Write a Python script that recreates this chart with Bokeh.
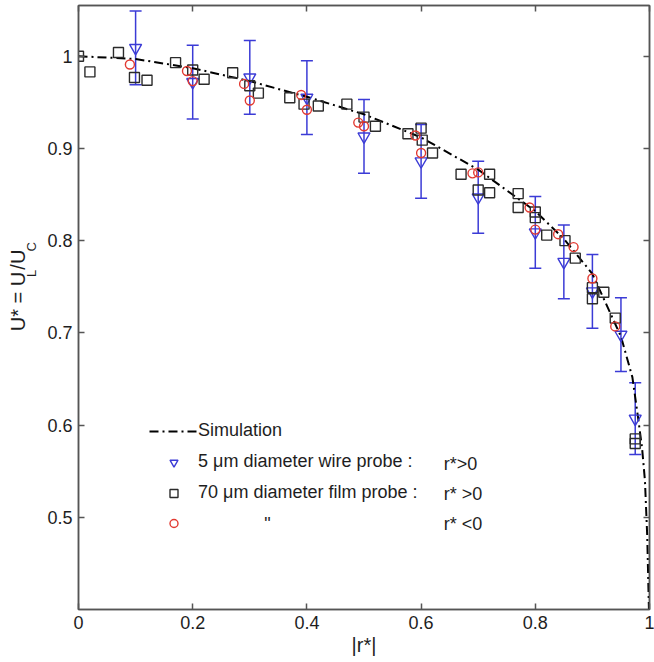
from math import pi
from bokeh.plotting import figure
from bokeh.layouts import row
from bokeh.core.properties import value
from bokeh.models import (Range1d, LinearAxis, FixedTicker, Whisker, TeeHead,
                          ColumnDataSource, Legend, LegendItem, Label)
from bokeh.embed import file_html
from bokeh.resources import INLINE

# ---------------- data ----------------
sim_r = [0.0, 0.1, 0.2, 0.3, 0.4, 0.5, 0.6, 0.7, 0.8, 0.85, 0.9, 0.95,
         0.97, 0.98, 0.987, 0.992, 0.996, 0.999]
sim_u = [1.0, 0.997, 0.987, 0.973, 0.956, 0.937, 0.912, 0.877, 0.832, 0.802,
         0.764, 0.696, 0.652, 0.608, 0.575, 0.54, 0.48, 0.40]

wire_r = [0.1, 0.2, 0.3, 0.4, 0.5, 0.6, 0.7, 0.8, 0.85, 0.9, 0.95, 0.975]
wire_u = [1.009, 0.972, 0.977, 0.955, 0.913, 0.886, 0.847, 0.809, 0.777,
          0.745, 0.698, 0.607]
wire_err = [0.04, 0.04, 0.04, 0.04, 0.04, 0.04, 0.039, 0.039, 0.04, 0.04,
            0.04, 0.039]

film_pos_r = [0.0, 0.02, 0.07, 0.098, 0.12, 0.17, 0.2, 0.22, 0.27, 0.30,
              0.315, 0.37, 0.395, 0.42, 0.47, 0.50, 0.52, 0.577, 0.60, 0.602,
              0.62, 0.67, 0.70, 0.72, 0.72, 0.77, 0.77, 0.80, 0.80, 0.82,
              0.852, 0.87, 0.90, 0.90, 0.92, 0.94, 0.975, 0.975]
film_pos_u = [1.0, 0.983, 1.004, 0.977, 0.974, 0.993, 0.985, 0.975, 0.982,
              0.968, 0.96, 0.955, 0.948, 0.946, 0.948, 0.934, 0.924, 0.916,
              0.922, 0.909, 0.895, 0.872, 0.855, 0.872, 0.852, 0.851, 0.836,
              0.831, 0.825, 0.806, 0.800, 0.781, 0.749, 0.737, 0.744, 0.716,
              0.585, 0.580]

film_neg_r = [0.09, 0.19, 0.20, 0.29, 0.30, 0.39, 0.40, 0.49, 0.50, 0.59,
              0.60, 0.69, 0.70, 0.79, 0.80, 0.84, 0.867, 0.90, 0.94]
film_neg_u = [0.991, 0.984, 0.973, 0.970, 0.952, 0.958, 0.942, 0.928, 0.924,
              0.914, 0.895, 0.873, 0.874, 0.836, 0.812, 0.807, 0.793, 0.759,
              0.707]

x_ticks = [0, 0.2, 0.4, 0.6, 0.8, 1]
x_tick_labels = ["0", "0.2", "0.4", "0.6", "0.8", "1"]
y_ticks = [0.5, 0.6, 0.7, 0.8, 0.9, 1]
y_tick_labels = ["0.5", "0.6", "0.7", "0.8", "0.9", "1"]

legend_labels = ["Simulation", "5 \u03bcm diameter wire probe :",
                 "70 \u03bcm diameter film probe :", " "]
legend_conditions = ["r*>0", "r* >0", "r* <0"]
ditto_mark = '"'
x_title = "|r*|"
y_title_main = ["U* = U", "/U"]
y_title_sub = ["L", "C"]

# ---------------- styling ----------------
FONT = "Liberation Sans"
BLUE = "#3b3bd6"
RED = "#e23a32"
DARK = "#2b2b2b"
AXIS = "#555555"
TXT = "#1e1e1e"

X0, X1 = 0.0, 1.0
Y0, Y1 = 0.4, 1.055
W, H = 654, 662
LW = 44                      # width of the strip holding the y title
BL, BR, BT, BB = 77, 5, 5, 53
FW, FH = W - BL - BR, H - BT - BB

# ---------- main plot ----------
p = figure(width=W - LW, height=H, x_range=Range1d(X0, X1),
           y_range=Range1d(Y0, Y1), output_backend="svg",
           toolbar_location=None, min_border_left=BL - LW,
           min_border_right=BR, min_border_top=BT, min_border_bottom=BB,
           x_axis_location=None, y_axis_location=None)
p.grid.visible = False
p.outline_line_color = AXIS
p.outline_line_width = 1.5
p.background_fill_color = "white"
p.border_fill_color = "white"


def make_axis(ticks, labels, show_labels):
    ax = LinearAxis(ticker=FixedTicker(ticks=ticks),
                    major_tick_in=6, major_tick_out=0, minor_tick_in=0,
                    minor_tick_out=0, major_tick_line_color=AXIS,
                    major_tick_line_width=1.5, axis_line_color=AXIS,
                    axis_line_width=1.5)
    if show_labels:
        ax.major_label_overrides = dict(zip(ticks, labels))
        ax.major_label_text_font = FONT
        ax.major_label_text_font_size = "18px"
        ax.major_label_text_color = TXT
    else:
        ax.major_label_text_color = None
        ax.major_label_text_font_size = "1px"
        ax.major_label_standoff = 0
    return ax


xb = make_axis(x_ticks, x_tick_labels, True)
xb.major_label_standoff = 6
xb.axis_label = x_title
xb.axis_label_text_font = FONT
xb.axis_label_text_font_size = "20px"
xb.axis_label_text_font_style = "normal"
xb.axis_label_text_color = TXT
xb.axis_label_standoff = 2
p.add_layout(xb, "below")
p.add_layout(make_axis(x_ticks, x_tick_labels, False), "above")
yl = make_axis(y_ticks, y_tick_labels, True)
yl.major_label_standoff = 6
p.add_layout(yl, "left")
p.add_layout(make_axis(y_ticks, y_tick_labels, False), "right")

# ---------------- glyphs ----------------
sim = p.line(sim_r, sim_u, line_color="black", line_width=2,
             line_dash="9 4 2 4")

wire_src = ColumnDataSource(dict(
    x=wire_r, y=wire_u,
    upper=[u + e for u, e in zip(wire_u, wire_err)],
    lower=[u - e for u, e in zip(wire_u, wire_err)]))
p.add_layout(Whisker(source=wire_src, base="x", upper="upper", lower="lower",
                     dimension="height", line_color=BLUE, line_width=1.5,
                     upper_head=TeeHead(size=12, line_color=BLUE, line_width=1.5),
                     lower_head=TeeHead(size=12, line_color=BLUE, line_width=1.5)))
tri = p.scatter("x", "y", source=wire_src, marker="inverted_triangle", size=12,
                line_color=BLUE, line_width=1.4, fill_color=None)
sq = p.scatter(film_pos_r, film_pos_u, marker="square", size=10,
               line_color=DARK, line_width=1.4, fill_color=None)
circ = p.scatter(film_neg_r, film_neg_u, marker="circle", size=9,
                 line_color=RED, line_width=1.4, fill_color=None)

# ---------------- legend ----------------
legend = Legend(items=[LegendItem(label=legend_labels[0], renderers=[sim]),
                       LegendItem(label=legend_labels[1], renderers=[tri]),
                       LegendItem(label=legend_labels[2], renderers=[sq]),
                       LegendItem(label=legend_labels[3], renderers=[circ])],
                location=(71, 76), orientation="vertical",
                border_line_color=None, background_fill_alpha=0,
                padding=0, margin=0, spacing=10,
                glyph_width=49, glyph_height=20, label_height=20,
                label_standoff=0, label_text_font=FONT,
                label_text_font_size="18px", label_text_color=TXT)
p.add_layout(legend, "center")


def dx(px):
    return X0 + (px - BL) / FW * (X1 - X0)


def dy(py):
    return Y1 - (py - BT) / FH * (Y1 - Y0)


for txt, py in zip(legend_conditions, [463, 493, 523]):
    p.add_layout(Label(x=dx(443), y=dy(py), text=txt, text_font=FONT,
                       text_font_size="18px", text_color=TXT,
                       text_baseline="middle", text_align="left"))
p.add_layout(Label(x=dx(263), y=dy(523), text=ditto_mark, text_font=FONT,
                   text_font_size="18px", text_color=TXT,
                   text_baseline="middle", text_align="left"))

# ---------- strip with the y title: U* = U_L/U_C ----------
lab = figure(width=LW, height=H, x_range=Range1d(0, LW),
             y_range=Range1d(H, 0), output_backend="svg",
             toolbar_location=None, min_border=0, x_axis_location=None,
             y_axis_location=None)
lab.grid.visible = False
lab.outline_line_color = None
lab.border_fill_color = "white"
lab.background_fill_color = "white"
lab.text(x=[17.5, 17.5], y=[357, 289.5], text=y_title_main, angle=pi / 2,
         text_font=value(FONT), text_font_size="20px", text_color=TXT,
         text_align="left", text_baseline="middle")
lab.text(x=[30.5, 30.5], y=[297.5, 269.5], text=y_title_sub, angle=pi / 2,
         text_font=value(FONT), text_font_size="13px", text_color=TXT,
         text_align="left", text_baseline="middle")

layout = row(lab, p, spacing=0)
open("out.html", "w").write(file_html(layout, INLINE))
